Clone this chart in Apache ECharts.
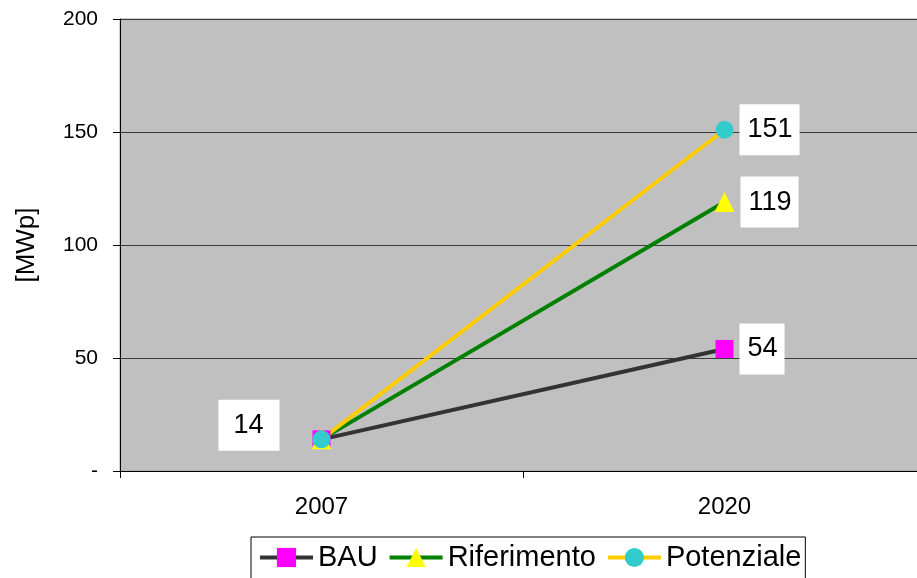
<!DOCTYPE html>
<html>
<head>
<meta charset="utf-8">
<script src="https://cdn.jsdelivr.net/npm/echarts@6/dist/echarts.min.js"></script>
<style>
  html, body { margin: 0; padding: 0; background: #fff; overflow: hidden; }
  /* the plot area runs past the right edge of the picture */
  #chart { width: 926px; height: 578px; }
</style>
</head>
<body>
<div id="chart"></div>
<script>
// dati
var years = ['2007', '2020'];
var bau = [14, 54];
var riferimento = [14, 119];
var potenziale = [14, 151];
var yTicks = { min: 0, max: 200, step: 50 };

var font = 'Liberation Sans, Arial, sans-serif';

var boxLabel = {
  show: true,
  position: 'right',
  distance: 6,
  color: '#000',
  fontFamily: font,
  fontSize: 27,
  backgroundColor: '#fff',
  padding: [12, 7, 12, 8]
};

// only the 2020 point gets a label (the 2007 one is on BAU, to the upper left)
function withLabels(values, firstLabel) {
  return values.map(function (v, i) {
    if (i === values.length - 1) return { value: v, label: boxLabel };
    if (i === 0 && firstLabel) return { value: v, label: firstLabel };
    return { value: v, label: { show: false } };
  });
}

var firstBau = Object.assign({}, boxLabel, {
  position: 'left', distance: 33, offset: [0, -14], padding: [12, 16, 12, 15]
});

var chart = echarts.init(document.getElementById('chart'));
var option = {
  animation: false,
  grid: {
    left: 120, top: 19, right: 0, bottom: 107,
    show: true, backgroundColor: '#c0c0c0', borderColor: '#a0a0a0', borderWidth: 1
  },
  legend: {
    left: 251, top: 537,
    padding: [6, 4, 14, 7],
    itemWidth: 53, itemHeight: 24, itemGap: 10,
    borderColor: '#000', borderWidth: 1, backgroundColor: '#fff',
    lineStyle: { width: 4 },
    textStyle: { color: '#000', fontFamily: font, fontSize: 29 },
    data: ['BAU', 'Riferimento', 'Potenziale']
  },
  xAxis: {
    type: 'category',
    data: years,
    boundaryGap: true,
    axisLine: { lineStyle: { color: '#000', width: 1 } },
    axisTick: { show: true, length: 7, interval: 0, lineStyle: { color: '#000' } },
    axisLabel: { color: '#000', fontFamily: font, fontSize: 24, margin: 24 }
  },
  yAxis: {
    type: 'value',
    min: yTicks.min, max: yTicks.max, interval: yTicks.step,
    name: '[MWp]', nameLocation: 'middle', nameRotate: 90, nameGap: 80,
    nameTextStyle: { color: '#000', fontFamily: font, fontSize: 26 },
    axisLine: { show: true, lineStyle: { color: '#000', width: 1 } },
    axisTick: { show: true, length: 7, lineStyle: { color: '#000' } },
    axisLabel: {
      color: '#000', fontFamily: font, fontSize: 21, margin: 22,
      formatter: function (v) { return v === 0 ? '-' : v; }
    },
    splitLine: { show: true, lineStyle: { color: '#3a3a3a', width: 1 } }
  },
  series: [
    {
      name: 'BAU', type: 'line', data: withLabels(bau, firstBau),
      symbol: 'rect', symbolSize: 18,
      lineStyle: { color: '#333333', width: 4 },
      itemStyle: { color: '#ff00ff' }
    },
    {
      name: 'Riferimento', type: 'line', data: withLabels(riferimento),
      symbol: 'triangle', symbolSize: 20,
      lineStyle: { color: '#008000', width: 4 },
      itemStyle: { color: '#ffff00' }
    },
    {
      name: 'Potenziale', type: 'line', data: withLabels(potenziale),
      symbol: 'circle', symbolSize: 18,
      lineStyle: { color: '#ffcc00', width: 4 },
      itemStyle: { color: '#33cccc' }
    }
  ]
};
chart.setOption(option);
</script>
</body>
</html>
